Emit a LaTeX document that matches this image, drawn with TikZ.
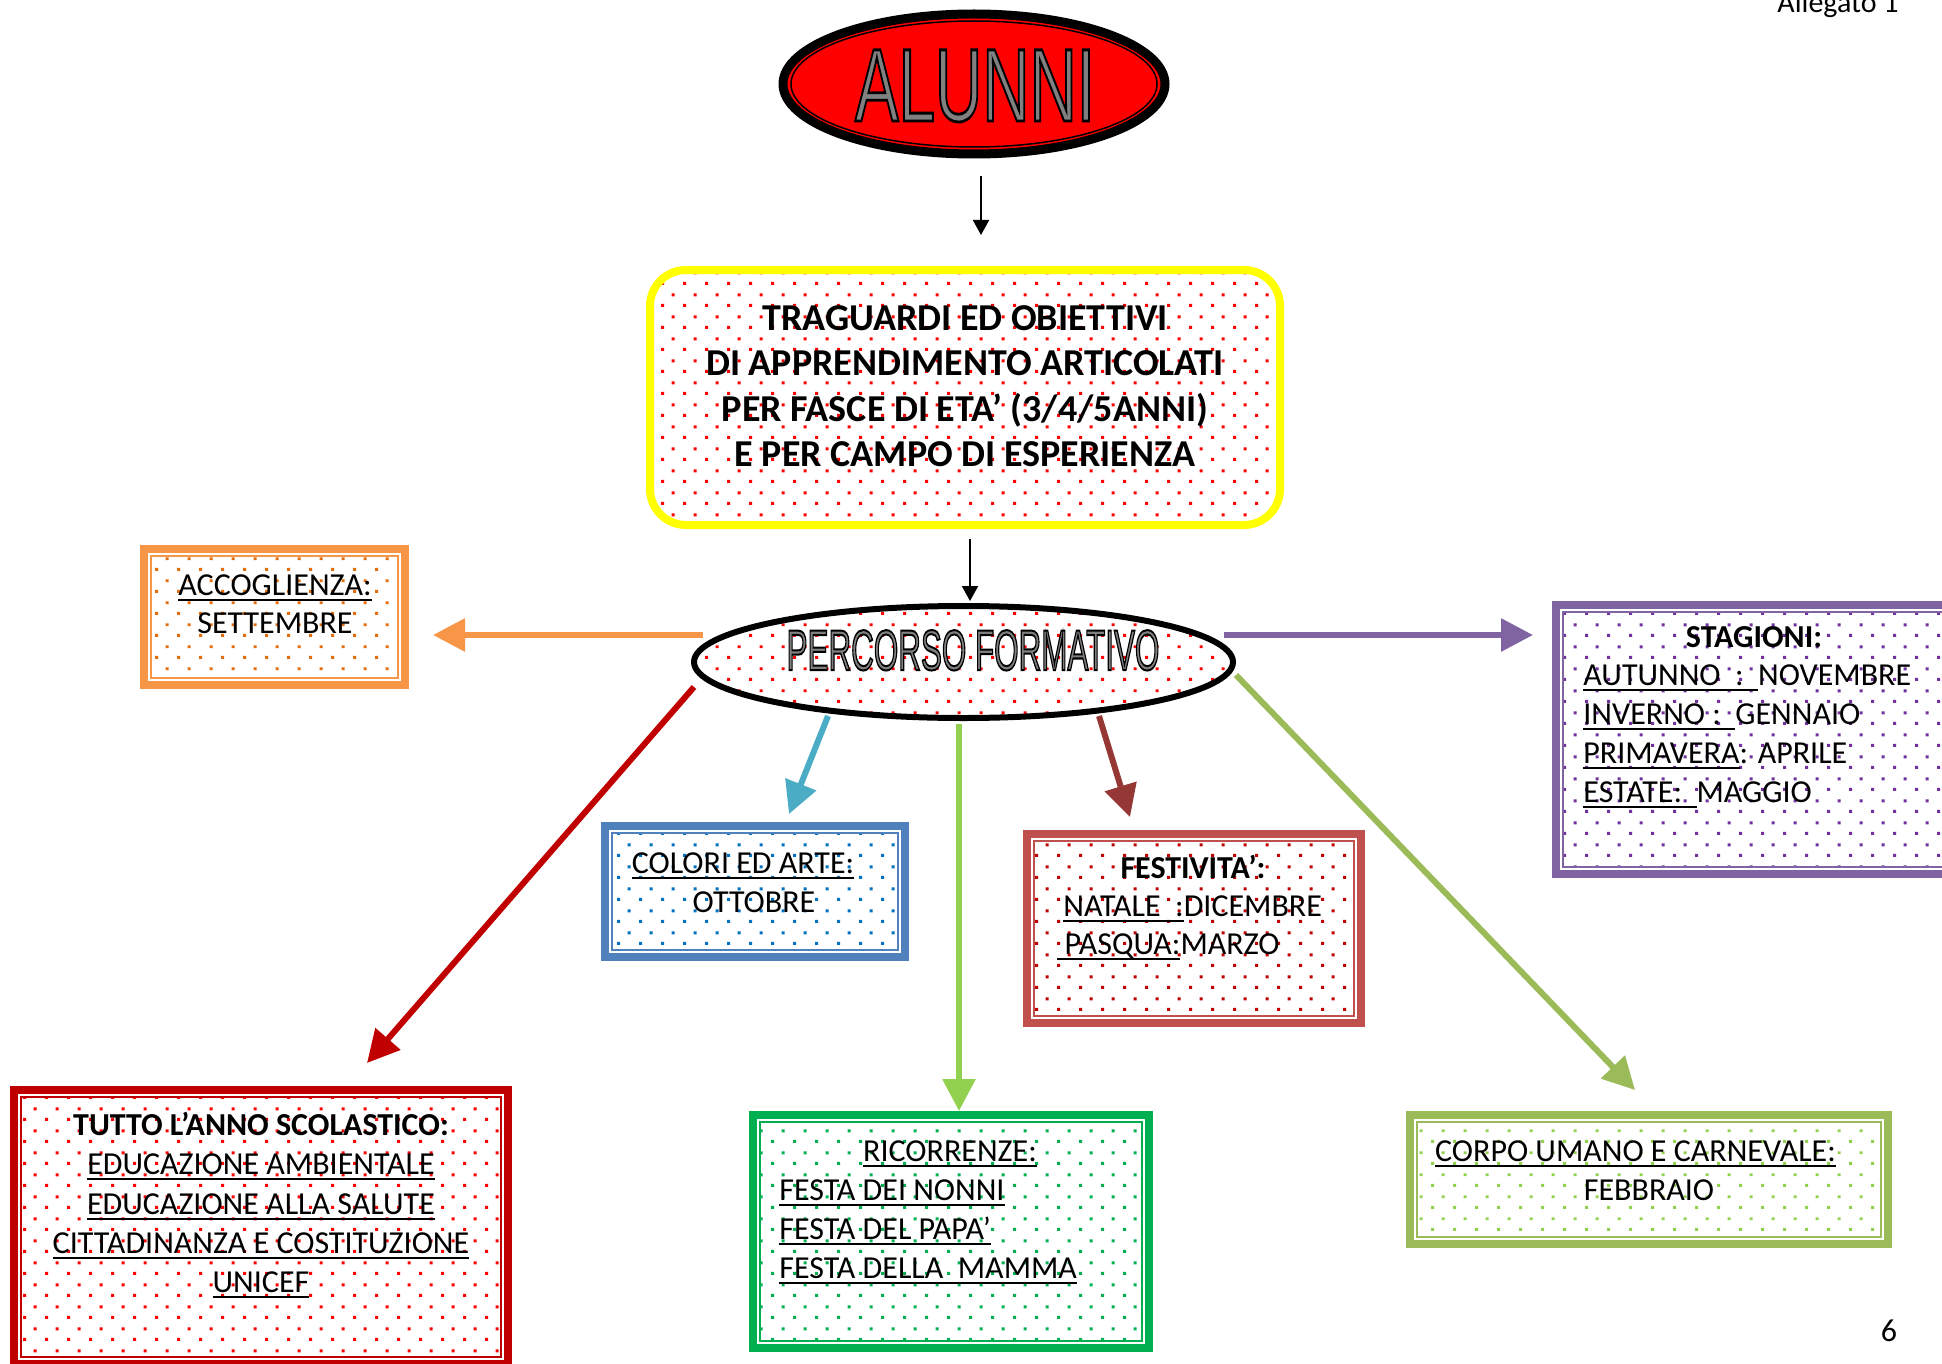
\documentclass[tikz,border=0pt]{standalone}
\usepackage{fontspec}
\setmainfont{Carlito}
\newfontfamily\arialf{Liberation Sans}
\usetikzlibrary{shapes.geometric,arrows.meta,patterns.meta}
\definecolor{cOrange}{HTML}{F79646}
\definecolor{cOrangeD}{HTML}{E46C0A}
\definecolor{cBlue}{HTML}{4F81BD}
\definecolor{cBlueD}{HTML}{0070C0}
\definecolor{cFes}{HTML}{C0504D}
\definecolor{cRedD}{HTML}{C00000}
\definecolor{cPurple}{HTML}{8064A2}
\definecolor{cPurpleD}{HTML}{7030A0}
\definecolor{cGreen}{HTML}{00B050}
\definecolor{cOlive}{HTML}{9BBB59}
\definecolor{cLime}{HTML}{92D050}
\definecolor{cTeal}{HTML}{4BACC6}
\definecolor{cBrown}{HTML}{953735}
\definecolor{cYellow}{HTML}{FFFF00}
\definecolor{cRed}{HTML}{FF0000}
\definecolor{cGray}{HTML}{808080}
\tikzdeclarepattern{
  name=wdots,
  type=uncolored,
  bottom left={(0pt,0pt)},
  top right={(11pt,11pt)},
  tile size={(11pt,11pt)},
  code={
    \pgfpathrectangle{\pgfpoint{0.6pt}{0.6pt}}{\pgfpoint{1.5pt}{1.5pt}}
    \pgfpathrectangle{\pgfpoint{6.1pt}{6.1pt}}{\pgfpoint{1.5pt}{1.5pt}}
    \pgfusepath{fill}
  }
}
\newcommand\myul[1]{\setbox0=\hbox{#1}\rlap{\rule[-3pt]{\wd0}{1pt}}\box0}
\newcommand\outl[2]{\special{pdf:literal direct q}\color{cGray}\special{pdf:literal direct 0 0 0 RG #1 w 2 Tr}#2\special{pdf:literal direct 0 Tr Q}}
\newcommand\mydblbox[7]{%
  \node[draw=#6, line width=4pt, fill=white, outer sep=0pt, inner sep=0pt,
        minimum width={(#4-8)*0.5pt}, minimum height={(#5-8)*0.5pt}] (#1) at (#2,#3) {};
  \path[pattern=wdots, pattern color=#7] ([shift={(3.5pt,-3.5pt)}]#1.north west) rectangle ([shift={(-3.5pt,3.5pt)}]#1.south east);
  \draw[#6, line width=1pt] ([shift={(3.5pt,-3.5pt)}]#1.north west) rectangle ([shift={(-3.5pt,3.5pt)}]#1.south east);
}
\begin{document}
\begin{tikzpicture}[x=0.5pt,y=-0.5pt,
  tx/.style={inner sep=0pt, font=\fontsize{16pt}{19.5pt}\selectfont, anchor=base},
  txl/.style={tx, anchor=base west},
  txb/.style={tx, font=\fontsize{16pt}{19.5pt}\selectfont\bfseries},
  tratx/.style={inner sep=0pt, font=\fontsize{19pt}{22pt}\selectfont\bfseries, anchor=base},
  bigarr/.style={line width=3pt, -{Triangle[length=16pt,width=16pt]}},
  blkarr/.style={line width=1pt, -{Triangle[length=7.5pt,width=8pt]}}]
\useasboundingbox (0,0) rectangle (1942,1364);
\clip (0,0) rectangle (1942,1364);

% boxes
\mydblbox{acc}{274.5}{617}{269}{144}{cOrange}{cOrangeD}
\mydblbox{col}{755}{891.5}{308}{139}{cBlue}{cBlueD}
\mydblbox{fes}{1194}{928.5}{342}{197}{cFes}{cRedD}
\mydblbox{sta}{1757}{739.5}{410}{277}{cPurple}{cPurpleD}
\mydblbox{tut}{261}{1227}{502}{282}{cRedD}{cRed}
\mydblbox{ric}{951}{1231.5}{404}{241}{cGreen}{cGreen}
\mydblbox{cor}{1649}{1179.5}{486}{137}{cOlive}{cLime}

% connectors from PERCORSO FORMATIVO
\coordinate (oS) at (703,635);  \coordinate (oE) at (433,635);
\coordinate (pS) at (1224,635); \coordinate (pE) at (1533,635);
\coordinate (rS) at (694,687);  \coordinate (rE) at (367,1063);
\coordinate (bS) at (828,716);  \coordinate (bE) at (789,814);
\coordinate (gS) at (959,724);  \coordinate (gE) at (959,1111);
\coordinate (wS) at (1099,716); \coordinate (wE) at (1130,817);
\coordinate (vS) at (1236,675); \coordinate (vE) at (1635,1090);
\draw[bigarr, cOrange] (oS) -- (oE);
\draw[bigarr, cPurple] (pS) -- (pE);
\draw[bigarr, cRedD] (rS) -- (rE);
\draw[bigarr, cTeal] (bS) -- (bE);
\draw[bigarr, cLime] (gS) -- (gE);
\draw[bigarr, cBrown] (wS) -- (wE);
\draw[bigarr, cOlive] (vS) -- (vE);

% ALUNNI
\node[ellipse, draw=black, line width=4.5pt, fill=cRed, inner sep=0pt, outer sep=0pt,
      minimum width=191pt, minimum height=70pt] (alun) at (974,84) {};
\draw[line width=0.75pt] (alun.center) ellipse [x radius=91.5pt, y radius=31.5pt];
\node[anchor=base, inner sep=0pt] (alunt) at (975,121)
  {\scalebox{0.633}[1]{{\arialf\fontsize{51.7pt}{52pt}\selectfont\outl{1.4}{ALUNNI}}}};

\coordinate (a1s) at (981,176); \coordinate (a1e) at (981,235);
\draw[blkarr] (a1s) -- (a1e);

% TRAGUARDI
\node[draw=cYellow, line width=4pt, rounded corners=18pt, preaction={fill=white},
      pattern=wdots, pattern color=cRed, inner sep=0pt, outer sep=0pt,
      minimum width=315pt, minimum height=127.5pt] (tra) at (965,397.5) {};
\node[tratx] (tra1) at (965,330) {TRAGUARDI ED OBIETTIVI};
\node[tratx] (tra2) at (965,375) {DI APPRENDIMENTO ARTICOLATI};
\node[tratx] (tra3) at (965,421) {PER FASCE DI ETA’ (3/4/5ANNI)};
\node[tratx] (tra4) at (965,466) {E PER CAMPO DI ESPERIENZA};

\coordinate (a2s) at (970,539); \coordinate (a2e) at (970,601);
\draw[blkarr] (a2s) -- (a2e);

% PERCORSO FORMATIVO
\node[ellipse, draw=black, line width=3pt, preaction={fill=white}, pattern=wdots,
      pattern color=cRed, inner sep=0pt, outer sep=0pt,
      minimum width=269.5pt, minimum height=56pt] (perc) at (963.5,662) {};
\node[anchor=base, inner sep=0pt] (perct) at (973,670)
  {\scalebox{0.549}[1]{{\arialf\fontsize{28.6pt}{29pt}\selectfont\outl{1.0}{PERCORSO FORMATIVO}}}};

% texts
\node[tx] (acc1) at (275,595) {\myul{ACCOGLIENZA:}};
\node[tx] (acc2) at (275,633) {SETTEMBRE};

\node[tx] (col1) at (743,873) {\myul{COLORI ED ARTE:}};
\node[tx] (col2) at (754,912) {OTTOBRE};

\node[txb] (fes1) at (1193,878) {FESTIVITA’:};
\node[txl] (fes2) at (1063,916) {\myul{NATALE~ :}DICEMBRE};
\node[txl] (fes3) at (1057,954) {\myul{\ PASQUA:}MARZO};

\node[txb] (sta1) at (1754,647) {STAGIONI:};
\node[txl] (sta2) at (1583,685) {\myul{AUTUNNO~ :~ }NOVEMBRE};
\node[txl] (sta3) at (1583,724) {\myul{INVERNO :~ }GENNAIO};
\node[txl] (sta4) at (1583,763) {\myul{PRIMAVERA}: APRILE};
\node[txl] (sta5) at (1583,802) {\myul{ESTATE:~ }MAGGIO};

\node[txb] (tut1) at (261,1135) {TUTTO L’ANNO SCOLASTICO:};
\node[tx] (tut2) at (261,1174) {\myul{EDUCAZIONE AMBIENTALE}};
\node[tx] (tut3) at (261,1214) {\myul{EDUCAZIONE ALLA SALUTE}};
\node[tx] (tut4) at (261,1253) {\myul{CITTADINANZA E COSTITUZIONE}};
\node[tx] (tut5) at (261,1292) {\myul{UNICEF}};

\node[tx] (ric1) at (950,1161) {\myul{RICORRENZE:}};
\node[txl] (ric2) at (779,1200) {\myul{FESTA DEI NONNI}};
\node[txl] (ric3) at (779,1239) {\myul{FESTA DEL PAPA’}};
\node[txl] (ric4) at (779,1278) {\myul{FESTA DELLA~ MAMMA}};

\node[tx] (cor1) at (1635.5,1161) {\myul{CORPO UMANO E CARNEVALE:}};
\node[tx] (cor2) at (1649,1200) {FEBBRAIO};

\node[anchor=base west, inner sep=0pt, font=\fontsize{15pt}{18pt}\selectfont] (alleg) at (1777,13) {Allegato 1};
\node[tx] (pnum) at (1889,1341) {6};
\end{tikzpicture}
\end{document}
